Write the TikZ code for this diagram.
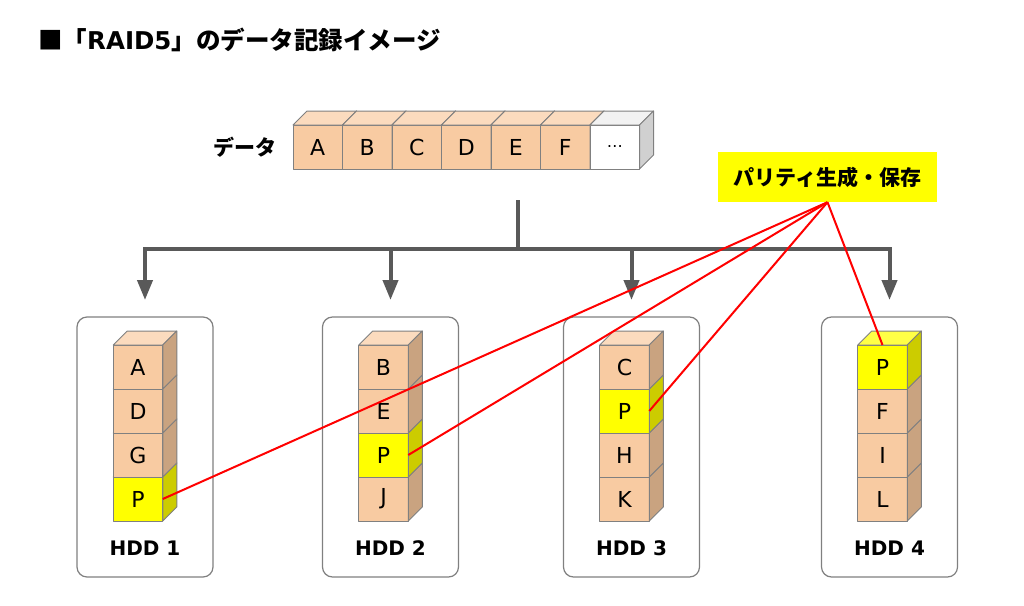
\documentclass[tikz,border=0pt]{standalone}
\usepackage{fontspec}
\setmainfont{DejaVu Sans}
\newfontfamily\jpfont{Noto Sans CJK JP}
\usetikzlibrary{arrows.meta,positioning,calc}
\definecolor{peachfront}{RGB}{248,203,162}
\definecolor{peachtop}{RGB}{251,219,190}
\definecolor{peachside}{RGB}{201,163,128}
\definecolor{parityfront}{RGB}{255,255,0}
\definecolor{paritytop}{RGB}{255,255,70}
\definecolor{parityside}{RGB}{204,204,0}
\definecolor{blanktop}{RGB}{242,242,242}
\definecolor{blankside}{RGB}{208,208,208}
\definecolor{edgegray}{RGB}{128,128,128}
\definecolor{feedgray}{RGB}{89,89,89}

\tikzset{
  cubeedge/.style={draw=edgegray, line width=1pt, line join=round},
  cubefront/.style={cubeedge, minimum width=49.5pt, minimum height=44pt, inner sep=0pt, outer sep=0pt, font=\fontsize{22}{22}\selectfont},
  diskbox/.style={draw=edgegray, line width=1.2pt, rounded corners=10pt, minimum width=136pt, minimum height=260pt, outer sep=0pt},
  disklabel/.style={font=\fontsize{20}{20}\selectfont\bfseries, inner sep=0pt},
  jplabel/.style={font=\jpfont\bfseries\fontsize{21}{21}\selectfont},
  feed/.style={draw=feedgray, line width=4pt, -{Triangle[length=20pt,width=15pt]}},
  paritylink/.style={draw=red, line width=2pt}
}

% one block: name, position, front, top, side, text
\newcommand{\blockcube}[6]{%
  \node[cubefront, fill=#3] (#1) at #2 {#6};
  \draw[cubeedge, fill=#4] (#1.north west) -- ++(14,-14) -- ++(49.5,0) -- (#1.north east) -- cycle;
  \draw[cubeedge, fill=#5] (#1.north east) -- ++(14,-14) -- ++(0,44) -- (#1.south east) -- cycle;
}
\newcommand{\datacube}[3]{\blockcube{#1}{#2}{peachfront}{peachtop}{peachside}{#3}}
\newcommand{\paritycube}[2]{\blockcube{#1}{#2}{parityfront}{paritytop}{parityside}{P}}

\begin{document}
\begin{tikzpicture}[x=1pt, y=-1pt]
    \fill[white] (0,0) rectangle (1024,605);
    \useasboundingbox (0,0) rectangle (1024,605);

    % Title
    \node[font=\bfseries\fontsize{24.5}{24.5}\selectfont, anchor=west, inner sep=0pt] (title) at (38,40)
        {{\jpfont ■「}RAID5{\jpfont 」のデータ記録イメージ}};

    % Data row
    \foreach \ch [count=\i from 0] in {A,...,F}
        \datacube{d\ch}{(317.75+49.5*\i,147)}{\ch};
    \blockcube{dmore}{(614.75,147)}{white}{blanktop}{blankside}{\fontsize{16}{16}\selectfont …}
    \node[jplabel, left=14pt of dA, inner sep=2pt] (datalabel) {データ};

    % Disks
    \node[diskbox] (hdd1) at (145,447) {};
    \node[diskbox] (hdd2) at (390.5,447) {};
    \node[diskbox] (hdd3) at (631.5,447) {};
    \node[diskbox] (hdd4) at (889.5,447) {};

    % HDD 1
    \paritycube{h1p}{(138,499)}
    \datacube{h1g}{(138,455)}{G}
    \datacube{h1d}{(138,411)}{D}
    \datacube{h1a}{(138,367)}{A}
    % HDD 2
    \datacube{h2j}{(383.5,499)}{J}
    \paritycube{h2p}{(383.5,455)}
    \datacube{h2e}{(383.5,411)}{E}
    \datacube{h2b}{(383.5,367)}{B}
    % HDD 3
    \datacube{h3k}{(624.5,499)}{K}
    \datacube{h3h}{(624.5,455)}{H}
    \paritycube{h3p}{(624.5,411)}
    \datacube{h3c}{(624.5,367)}{C}
    % HDD 4
    \datacube{h4l}{(882.5,499)}{L}
    \datacube{h4i}{(882.5,455)}{I}
    \datacube{h4f}{(882.5,411)}{F}
    \paritycube{h4p}{(882.5,367)}

    \foreach \d in {1,...,4}
        \node[disklabel, anchor=base] (hdd\d name) at ($(hdd\d.south)+(0,-22)$) {HDD \d};

    % Distribution
    \coordinate (stemtop) at (518,200);
    \coordinate (split) at (518,249);
    \draw[feedgray, line width=4pt] (stemtop) -- (split);
    \foreach \d in {1,...,4}
        \draw[feed, shorten >=17pt] (split) -| (hdd\d.north);

    % Parity
    \node[jplabel, fill=parityfront, minimum width=219pt, minimum height=50pt] (parity) at (827.5,177) {パリティ生成・保存};
    \foreach \t in {h1p.east, h2p.east, h3p.east, h4p.north}
        \draw[paritylink] (parity.south) -- (\t);
\end{tikzpicture}
\end{document}
